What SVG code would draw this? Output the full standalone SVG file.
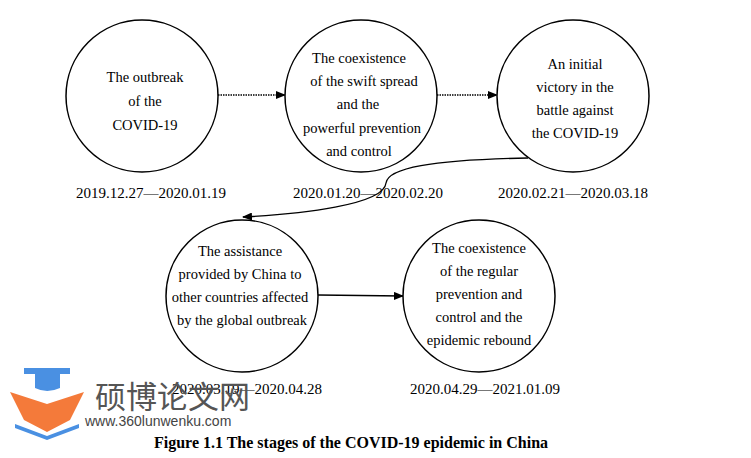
<svg xmlns="http://www.w3.org/2000/svg" width="751" height="458" viewBox="0 0 751 458">
<style>
.c{fill:#fff;stroke:#000;stroke-width:1.5}
.t{font-family:"Liberation Serif",serif;font-size:14.5px;text-anchor:middle;fill:#000}
.d{font-family:"Liberation Serif",serif;font-size:15px;text-anchor:middle;fill:#000}
.ln{fill:none;stroke:#000;stroke-width:1.3}
</style>
<defs><marker id="a" markerWidth="10" markerHeight="8" refX="9" refY="4" orient="auto" markerUnits="userSpaceOnUse"><path d="M0,0L10,4L0,8z"/></marker></defs>
<rect width="751" height="458" fill="#fff"/>
<g id="connectors">
<line class="ln" x1="218" y1="95" x2="285" y2="95" stroke-dasharray="1.5,1" marker-end="url(#a)"/>
<line class="ln" x1="437" y1="95" x2="497" y2="95" stroke-dasharray="1.5,1" marker-end="url(#a)"/>
<path class="ln" d="M528,158 C430,160 388,168 386,183 C384,205 300,214 243,217" marker-end="url(#a)"/>
<line class="ln" x1="318" y1="295" x2="403" y2="296" marker-end="url(#a)"/>
</g>
<g id="n1"><circle class="c" cx="142" cy="96" r="76"/>
<text class="t" x="145" y="82">The outbreak</text><text class="t" x="145" y="106">of the</text><text class="t" x="145" y="130">COVID-19</text>
<text class="d" x="151" y="198">2019.12.27—2020.01.19</text></g>
<g id="n2"><circle class="c" cx="361" cy="96" r="76"/>
<text class="t" x="359" y="63">The coexistence</text><text class="t" x="364" y="86">of the swift spread</text><text class="t" x="358" y="109">and the</text><text class="t" x="362" y="133">powerful prevention</text><text class="t" x="359" y="156">and control</text>
<text class="d" x="368" y="198">2020.01.20—2020.02.20</text></g>
<g id="n3"><circle class="c" cx="573" cy="96" r="76"/>
<text class="t" x="575" y="69">An initial</text><text class="t" x="575" y="92">victory in the</text><text class="t" x="575" y="115">battle against</text><text class="t" x="575" y="138">the COVID-19</text>
<text class="d" x="573" y="198">2020.02.21—2020.03.18</text></g>
<g id="n4"><circle class="c" cx="242" cy="296" r="76"/>
<text class="t" x="240" y="256">The assistance</text><text class="t" x="240" y="279">provided by China to</text><text class="t" x="240" y="302">other countries affected</text><text class="t" x="242" y="325">by the global outbreak</text>
<text class="d" x="247" y="394">2020.03.19—2020.04.28</text></g>
<g id="n5"><circle class="c" cx="479" cy="296" r="76"/>
<text class="t" x="479" y="253">The coexistence</text><text class="t" x="479" y="276">of the regular</text><text class="t" x="479" y="299">prevention and</text><text class="t" x="479" y="322">control and the</text><text class="t" x="479" y="345">epidemic rebound</text>
<text class="d" x="485" y="394">2020.04.29—2021.01.09</text></g>
<g id="logo">
<path d="M24,368H70V374H24z" fill="#4a90e2"/>
<path d="M35,374H60V388Q47,394 35,388z" fill="#4a90e2"/>
<path d="M10,392L47,404L84,392L70,420L47,432L24,420z" fill="#f47a3a"/>
<path d="M15,424L47,436L79,424L79,428L47,440L15,428z" fill="#4a90e2"/>
<text x="95" y="408" font-family="Noto Sans CJK SC,sans-serif" font-size="31" fill="#555">硕博论文网</text>
<text x="85" y="426" font-family="Liberation Sans,sans-serif" font-size="14" fill="#444">www.360lunwenku.com</text>
</g>
<text x="351" y="448" font-family="Liberation Serif,serif" font-size="16" font-weight="bold" text-anchor="middle">Figure 1.1 The stages of the COVID-19 epidemic in China</text>
</svg>
